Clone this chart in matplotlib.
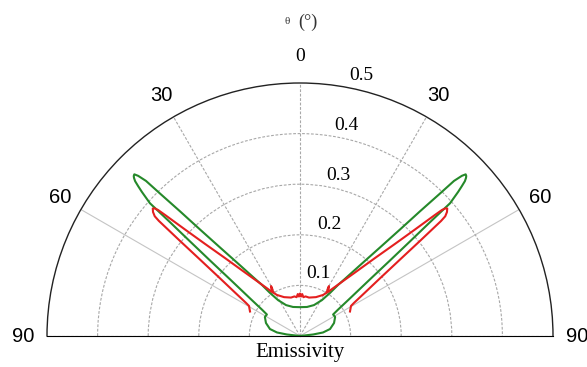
import numpy as np
import matplotlib
matplotlib.use("Agg")
import matplotlib.pyplot as plt

# Half-curves (theta in degrees from the normal, emissivity), mirrored to the other side
green_theta = [0, 13.5, 24.3, 31.4, 34.9, 36.7, 38.2, 40.3, 42.1, 43.2, 43.9, 44.5, 44.8, 45.3, 45.7,
               46.1, 46.4, 46.8, 47.2, 47.65, 48.5, 48.8, 49.3, 50.0, 51.0, 53.0, 55.3, 57.0, 61.5, 69.1,
               76.9, 81.3, 83.4, 90]
green_r = [0.057, 0.059, 0.067, 0.083, 0.104, 0.126, 0.144, 0.183, 0.236, 0.289, 0.342, 0.395, 0.432, 0.450, 0.4575,
           0.456, 0.453, 0.447, 0.436, 0.423, 0.396, 0.341, 0.287, 0.232, 0.178, 0.124, 0.091, 0.078, 0.079, 0.072,
           0.061, 0.046, 0.026, 0.0]

red_theta = [0, 1.5, 3, 5, 8, 13.2, 22.3, 29.3, 31.5, 30.1, 32.5, 34.2, 37.2, 40.9, 43.9, 45.9, 47.2, 48.1,
             48.4, 48.7, 49.1, 49.85, 50.5, 50.8, 51.6, 52.6, 54.2, 56.2, 58.5, 59.5, 63.9]
red_r = [0.084, 0.078, 0.083, 0.077, 0.079, 0.078, 0.083, 0.093, 0.100, 0.114, 0.103, 0.112, 0.131, 0.166, 0.214,
         0.262, 0.310, 0.358, 0.375, 0.382, 0.385, 0.380, 0.372, 0.360, 0.303, 0.249, 0.195, 0.155, 0.125, 0.117, 0.110]

r_ticks = [0.1, 0.2, 0.3, 0.4, 0.5]
r_tick_labels = ["0.1", "0.2", "0.3", "0.4", "0.5"]
theta_ticks = [-90, -60, -30, 0, 30, 60, 90]
theta_tick_labels = ["90", "60", "30", "0", "30", "60", "90"]


def mirror(th, r):
    th = np.asarray(th, float)
    r = np.asarray(r, float)
    T = np.concatenate([-th[::-1], th[1:]])
    R = np.concatenate([r[::-1], r[1:]])
    return np.deg2rad(T), R


W, H = 587, 367
fig = plt.figure(figsize=(W / 100, H / 100), dpi=100)
cx, cy, R = 300, 336, 253
# square box of side 2R centred on the middle of the half-disc
mid_y = cy - R / 2
ax = fig.add_axes([(cx - R) / W, (H - (mid_y + R)) / H, 2 * R / W, 2 * R / H], projection="polar")
ax.set_theta_zero_location("N")
ax.set_theta_direction(-1)
ax.set_thetamin(-90)
ax.set_thetamax(90)
ax.set_ylim(0, 0.5)

ax.set_rgrids(r_ticks[:-1], labels=[""] * 4)
ax.set_thetagrids(theta_ticks, labels=[""] * len(theta_ticks))
ax.grid(True, color="#a8a8a8", linestyle=(0, (2.5, 1.5)), linewidth=0.8)
for t, gl in zip(theta_ticks, ax.xaxis.get_gridlines()):
    if abs(t) == 60:
        gl.set_linestyle("-")
        gl.set_color("#c4c4c4")
ax.tick_params(length=0)

for k in ("start", "end", "inner"):
    ax.spines[k].set_visible(False)
ax.spines["polar"].set_color("#222222")
ax.spines["polar"].set_linewidth(1.0)

tg, rg = mirror(green_theta, green_r)
trd, rrd = mirror(red_theta, red_r)
ax.plot(tg, rg, color="#25892a", lw=1.5, zorder=4, solid_joinstyle="round")
ax.plot(trd, rrd, color="#e41f1f", lw=1.5, zorder=5, solid_joinstyle="round")

serif = ["Liberation Serif", "DejaVu Serif"]
sans = ["Liberation Sans", "DejaVu Sans"]

# angular labels
for t, lab in zip(theta_ticks, theta_tick_labels):
    if t == 0:
        ax.text(0, 0.552, lab, ha="center", va="center", fontsize=14, family=serif)
    else:
        ax.text(np.deg2rad(t), 0.548, lab, ha="center", va="center", fontsize=14.5, family=sans)

# radial labels
r_label_pos = [(16, 0.129), (15, 0.228), (13.5, 0.327), (12.5, 0.427), (13.3, 0.528)]
for (t, rr), lab in zip(r_label_pos, r_tick_labels):
    ax.text(np.deg2rad(t), rr, lab, ha="center", va="center", fontsize=14, family=serif)

fig.text(300 / W, 1 - 353 / H, "Emissivity", ha="center", va="center", fontsize=15, family=serif)
fig.text(287 / W, 1 - 22 / H, "θ", ha="center", va="center", fontsize=8, family=serif, color="#333333")
fig.text(308 / W, 1 - 22 / H, "(°)", ha="center", va="center", fontsize=13, family=serif, color="#333333")

fig.savefig("out.png", dpi=100)
